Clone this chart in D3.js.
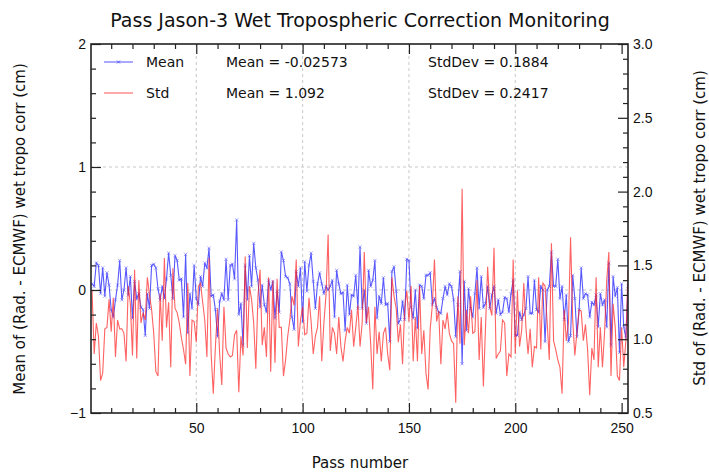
<!DOCTYPE html>
<html>
<head>
<meta charset="utf-8">
<script src="https://cdn.jsdelivr.net/npm/d3@7"></script>
<style>
  body { margin: 0; background: #fff; }
  svg { font-family: 'DejaVu Sans', sans-serif; }
</style>
</head>
<body>
<div id="chart"></div>
<script>
// per-pass values (pass 1..253)
const meanValues = [
  0.05, 0.03, 0.22, 0.20, -0.03, 0.18, -0.05, 0.14, 0.04, -0.16,
  -0.22, -0.08, 0.04, 0.24, -0.08, 0.00, 0.18, -0.04, 0.11, -0.23,
  0.07, -0.07, -0.03, -0.14, -0.16, -0.37, -0.03, -0.15, 0.20, 0.21,
  0.18, 0.01, -0.08, 0.03, -0.07, 0.09, 0.30, 0.12, -0.07, 0.28,
  0.24, 0.08, 0.09, -0.22, 0.29, -0.35, -0.03, -0.15, 0.20, -0.07,
  -0.12, 0.11, 0.03, 0.22, 0.18, 0.34, -0.05, -0.04, -0.16, -0.38,
  -0.09, -0.03,
  -0.08, 0.25, -0.08, 0.20, 0.21, 0.09, 0.57, -0.20, -0.11, -0.45,
  0.20, -0.08, 0.28, 0.03, 0.38, 0.18, 0.08, -0.14, 0.04, -0.12,
  -0.18, 0.08, 0.00, 0.07, -0.23, -0.01, -0.18, 0.31, 0.24, 0.11,
  0.10, 0.05, -0.22, -0.32, 0.15, 0.03, 0.18, -0.26, 0.23, -0.01,
  0.20, 0.30, 0.07, -0.15, 0.05, 0.14, 0.05, -0.03, 0.03, 0.00,
  0.03, 0.08, -0.22, 0.16, 0.05, -0.03, -0.02, -0.33, 0.04, -0.20,
  -0.04, -0.05, 0.12, -0.15, 0.35,
  -0.15, 0.00, -0.27, 0.16, 0.03, 0.08, 0.24, -0.23, -0.05, -0.11,
  0.10, -0.12, -0.11, -0.42, 0.15, 0.19, -0.01, -0.27, -0.24, -0.09,
  -0.24, 0.25, 0.24, -0.14, -0.23, 0.00, -0.31, 0.04, 0.03, -0.07,
  0.12, 0.12, 0.14, -0.12, -0.07, -0.14, -0.18, -0.19, -0.07, 0.03,
  -0.04, 0.05, 0.03, -0.08, -0.38, -0.12, 0.15, -0.60, 0.07, -0.33,
  0.01, -0.15, -0.22, -0.03, 0.18, -0.15, 0.11, -0.14, -0.11, 0.03,
  -0.15, -0.04, 0.03,
  -0.19, -0.08, -0.20, -0.18, -0.06, -0.07, -0.18, -0.03, 0.08, -0.37,
  -0.37, -0.18, -0.24, -0.20, -0.15, 0.11, -0.19, -0.19, 0.08, -0.16,
  -0.18, 0.03, 0.00, -0.42, 0.00, 0.03, 0.31, 0.03, 0.03, 0.25,
  -0.07, 0.03, -0.24, -0.04, -0.42, -0.37, 0.12, -0.07, -0.38, -0.16,
  0.18, -0.07, -0.03, -0.04, -0.22, -0.10, -0.12, -0.04, -0.30, -0.03,
  -0.12, -0.08, -0.30, 0.22, -0.45, 0.11, -0.05, 0.02, -0.51, 0.05,
  -0.30, -0.39, 0.03
];

const stdValues = [
  1.33, 0.90, 1.11, 1.02, 0.72, 0.77, 1.07, 1.08, 1.27, 1.05,
  1.28, 0.88, 1.13, 1.07, 1.07, 1.04, 0.85, 1.36, 1.24, 0.89,
  1.47, 0.87, 1.40, 1.11, 1.18, 1.13, 1.42, 1.30, 1.20, 1.04,
  0.78, 0.75, 1.31, 0.99, 1.55, 1.08, 1.25, 0.81, 1.48, 1.21,
  1.18, 1.11, 1.01, 0.93, 0.83, 1.38, 0.75, 1.13, 1.12, 0.98,
  1.36, 1.38, 1.25, 1.13, 0.88, 1.55, 0.90, 0.63, 0.95, 1.21,
  0.90, 0.69,
  1.22, 0.94, 0.90, 0.88, 0.89, 1.03, 1.06, 0.64, 1.02, 0.89,
  1.56, 0.94, 1.36, 1.27, 1.11, 0.80, 1.29, 1.47, 0.96, 1.08,
  0.88, 1.42, 0.78, 1.40, 0.84, 1.41, 1.08, 1.08, 0.75, 0.86,
  1.02, 1.13, 1.29, 1.23, 1.54, 0.95, 1.13, 1.22, 1.03, 1.04,
  1.28, 1.12, 0.90, 1.02, 1.08, 1.29, 0.85, 1.11, 1.30, 1.71,
  0.92, 1.08, 1.04, 0.90, 1.15, 0.95, 0.85, 0.99, 1.08, 1.04,
  1.20, 0.95, 1.08, 1.23, 0.95,
  1.11, 1.59, 1.11, 1.22, 0.97, 0.66, 1.22, 0.90, 1.05, 0.85,
  1.04, 1.08, 0.90, 0.79, 1.42, 1.29, 1.21, 0.98, 1.10, 0.83,
  1.21, 1.33, 1.12, 1.36, 0.85, 1.15, 0.85, 1.36, 0.90, 1.06,
  0.77, 0.66, 1.07, 1.23, 1.54, 1.12, 1.19, 0.83, 1.13, 1.07,
  1.18, 1.04, 0.99, 0.97, 0.57, 1.29, 0.97, 2.02,
  0.96, 1.20, 1.04, 1.29, 1.04, 1.05, 1.40, 0.86, 1.15, 0.68,
  1.08, 1.49, 1.22, 1.16, 1.62,
  0.87, 0.90, 0.92, 1.13, 1.11, 0.75, 0.90, 0.88, 1.54, 0.90,
  1.33, 0.95, 1.06, 1.38, 1.08, 0.90, 1.07, 0.81, 0.95, 0.94,
  1.42, 0.93, 1.38, 1.36, 1.11, 0.86, 1.65, 0.99, 0.93, 0.86,
  0.81, 0.63, 1.20, 0.99, 1.11, 1.69, 1.13, 0.89, 1.05, 1.20,
  1.19, 0.99, 1.10, 0.93, 0.62, 0.94, 0.86, 1.42, 0.81, 1.08,
  0.81, 1.05, 1.40, 1.59, 0.75, 1.24, 1.08, 0.75, 0.72, 1.08,
  0.81, 0.99, 1.47
];

const seriesNames = ['Mean', 'Std'];
const statMeans = ['-0.02573', '1.092'];
const statStdDevs = ['0.1884', '0.2417'];

const xTicks = [50, 100, 150, 200, 250];
const leftTicks = [-1, 0, 1, 2];
const rightTicks = [0.5, 1.0, 1.5, 2.0, 2.5, 3.0];

const passes = d3.range(1, meanValues.length + 1);

const W = 709, H = 474;
const margin = { top: 44, right: 81, bottom: 61, left: 91 },
  width = W - margin.left - margin.right,
  height = H - margin.top - margin.bottom;

const svg = d3.select('#chart').append('svg')
  .attr('width', W).attr('height', H);

const g = svg.append('g')
  .attr('transform', `translate(${margin.left},${margin.top})`);

const x = d3.scaleLinear().domain([0.5, 253]).range([0, width]);
const yL = d3.scaleLinear().domain([-1, 2]).range([height, 0]);
const yR = d3.scaleLinear().domain([0.5, 3.0]).range([height, 0]);

// grid
const gridColor = '#c8c8c8';
g.append('g').selectAll('line').data(xTicks.filter((d) => d < 250)).join('line')
  .attr('x1', (d) => x(d)).attr('x2', (d) => x(d))
  .attr('y1', 0).attr('y2', height)
  .attr('stroke', gridColor).attr('stroke-dasharray', '3,3');
g.append('g').selectAll('line').data([0, 1]).join('line')
  .attr('x1', 0).attr('x2', width)
  .attr('y1', (d) => yL(d)).attr('y2', (d) => yL(d))
  .attr('stroke', gridColor).attr('stroke-dasharray', '3,3');

// clip
svg.append('defs').append('clipPath').attr('id', 'clip')
  .append('rect').attr('width', width).attr('height', height);

const plot = g.append('g').attr('clip-path', 'url(#clip)');

const meanLine = d3.line().x((d, i) => x(passes[i])).y((d) => yL(d));
const stdLine = d3.line().x((d, i) => x(passes[i])).y((d) => yR(d));

plot.append('path').datum(meanValues)
  .attr('d', meanLine)
  .attr('fill', 'none').attr('stroke', '#2020ff')
  .attr('stroke-opacity', 0.75).attr('stroke-width', 1.1);

plot.append('g').selectAll('path').data(meanValues).join('path')
  .attr('transform', (d, i) => `translate(${x(passes[i])},${yL(d)})`)
  .attr('d', 'M-1.6,-1.6L1.6,1.6M-1.6,1.6L1.6,-1.6')
  .attr('stroke', '#5a5aff').attr('stroke-opacity', 0.8)
  .attr('stroke-width', 0.7).attr('fill', 'none');

plot.append('path').datum(stdValues)
  .attr('d', stdLine)
  .attr('fill', 'none').attr('stroke', '#ff2020')
  .attr('stroke-opacity', 0.7).attr('stroke-width', 1.1);

// axes (ticks pointing inward)
const axisColor = '#222';
function styleAxis(sel) {
  sel.select('.domain').remove();
  sel.selectAll('line').attr('stroke', axisColor).attr('stroke-width', 1.2);
  sel.selectAll('text').attr('fill', '#111').style('font-size', '14px');
}

const xMinor = d3.range(10, 251, 10).filter((d) => !xTicks.includes(d));
g.append('g').attr('transform', `translate(0,${height})`)
  .call(d3.axisBottom(x).tickValues(xMinor).tickSize(-5).tickFormat(''))
  .call(styleAxis);
g.append('g').attr('transform', `translate(0,${height})`)
  .call(d3.axisBottom(x).tickValues(xTicks).tickSize(-10).tickPadding(10).tickFormat(d3.format('d')))
  .call(styleAxis);
g.append('g')
  .call(d3.axisTop(x).tickValues(xMinor).tickSize(-5).tickFormat(''))
  .call(styleAxis);
g.append('g')
  .call(d3.axisTop(x).tickValues(xTicks).tickSize(-10).tickFormat(''))
  .call(styleAxis);

const yMinor = d3.range(-0.8, 2, 0.2).filter((d) => Math.abs(d - Math.round(d)) > 1e-6);
g.append('g')
  .call(d3.axisLeft(yL).tickValues(yMinor).tickSize(-5).tickFormat(''))
  .call(styleAxis);
g.append('g')
  .call(d3.axisLeft(yL).tickValues(leftTicks).tickSize(-10).tickPadding(5).tickFormat(d3.format('d')))
  .call(styleAxis);

const rMinor = d3.range(0.6, 3.0, 0.1).filter((d) => Math.abs(d * 2 - Math.round(d * 2)) > 1e-6);
g.append('g').attr('transform', `translate(${width},0)`)
  .call(d3.axisRight(yR).tickValues(rMinor).tickSize(-5).tickFormat(''))
  .call(styleAxis);
g.append('g').attr('transform', `translate(${width},0)`)
  .call(d3.axisRight(yR).tickValues(rightTicks).tickSize(-10).tickPadding(5).tickFormat(d3.format('.1f')))
  .call(styleAxis);

// frame
g.append('rect').attr('width', width).attr('height', height)
  .attr('fill', 'none').attr('stroke', axisColor).attr('stroke-width', 1.6);

// titles
svg.append('text').attr('x', 360).attr('y', 27)
  .attr('text-anchor', 'middle').style('font-size', '19px').attr('fill', '#111')
  .text('Pass Jason-3 Wet Tropospheric Correction Monitoring');
svg.append('text').attr('x', 360).attr('y', 468)
  .attr('text-anchor', 'middle').style('font-size', '15px').attr('fill', '#111')
  .text('Pass number');
svg.append('text').attr('transform', 'translate(25,229) rotate(-90)')
  .attr('text-anchor', 'middle').style('font-size', '15px').attr('fill', '#111')
  .text('Mean of (Rad. - ECMWF) wet tropo corr (cm)');
svg.append('text').attr('transform', 'translate(705,228) rotate(-90)')
  .attr('text-anchor', 'middle').style('font-size', '15px').attr('fill', '#111')
  .text('Std of (Rad. - ECMWF) wet tropo corr (cm)');

// legend
const legendColors = ['#2020ff', '#ff2020'];
const legend = g.append('g');
seriesNames.forEach((name, i) => {
  const ly = 18 + i * 31;
  legend.append('line').attr('x1', 13).attr('x2', 42).attr('y1', ly).attr('y2', ly)
    .attr('stroke', legendColors[i]).attr('stroke-opacity', 0.7).attr('stroke-width', 1.1);
  if (i === 0) {
    legend.append('path').attr('transform', `translate(27.5,${ly})`)
      .attr('d', 'M-1.5,-1.5L1.5,1.5M-1.5,1.5L1.5,-1.5')
      .attr('stroke', '#4a4aff').attr('stroke-width', 0.8);
  }
  legend.append('text').attr('x', 55).attr('y', ly + 5)
    .style('font-size', '14px').attr('fill', '#111').text(name);
  legend.append('text').attr('x', 135).attr('y', ly + 5)
    .style('font-size', '14px').attr('fill', '#111').text('Mean = ' + statMeans[i]);
  legend.append('text').attr('x', 337).attr('y', ly + 5)
    .style('font-size', '14px').attr('fill', '#111').text('StdDev = ' + statStdDevs[i]);
});
</script>
</body>
</html>
